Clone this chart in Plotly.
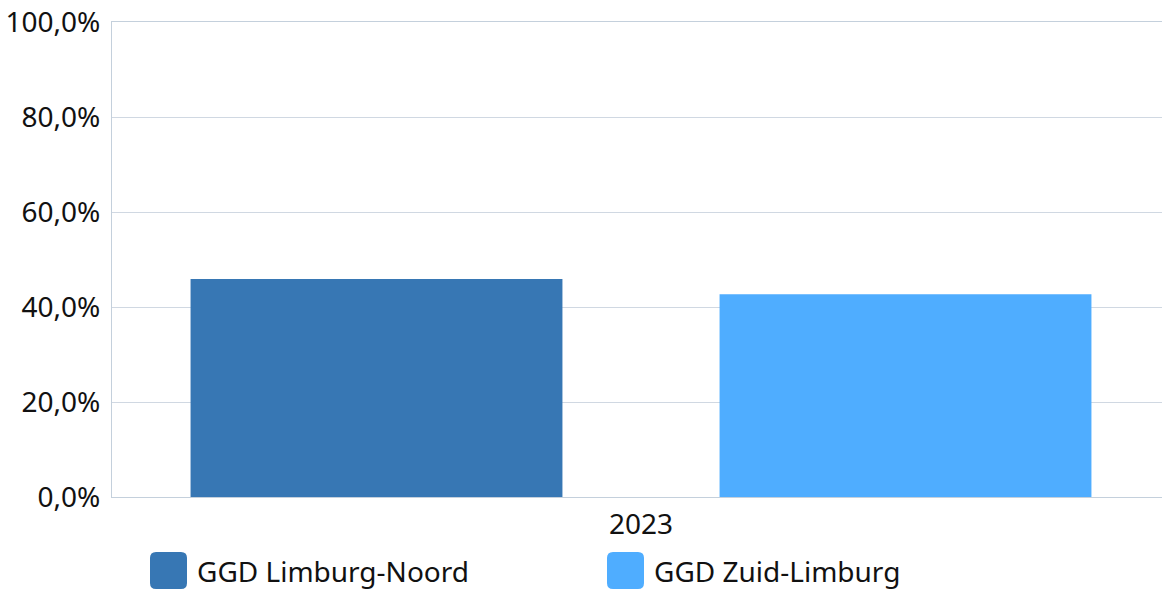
import plotly.graph_objects as go

categories = ["2023"]
series_names = ["GGD Limburg-Noord", "GGD Zuid-Limburg"]
series_values = [[0.459], [0.427]]
colors = ["#3777b4", "#4fadff"]
tick_vals = [0, 0.2, 0.4, 0.6, 0.8, 1.0]

W, H = 1162, 589
L, R, T, B = 112, 0, 22, 92
pw, ph = W - L - R, H - T - B
# the original plot area is 1058px wide, clipped by the window at the right
full_pw = 1058

fig = go.Figure()
for name, vals, c in zip(series_names, series_values, colors):
    fig.add_trace(go.Bar(x=categories, y=vals, name=name, marker=dict(color=c, line=dict(width=0)),
                         showlegend=False))

font = "Segoe UI, Noto Sans, Open Sans, sans-serif"
FS = 28

def px_to_paper_x(px):
    return (px - L) / pw

def py_to_paper_y(py):
    return (H - B - py) / ph

def rounded_rect_path(x0, y0, x1, y1, r):
    # pixel coordinates (top-left origin) -> paper-coordinate SVG path
    X = px_to_paper_x
    Y = py_to_paper_y
    return (f"M {X(x0 + r)},{Y(y0)} L {X(x1 - r)},{Y(y0)} Q {X(x1)},{Y(y0)} {X(x1)},{Y(y0 + r)} "
            f"L {X(x1)},{Y(y1 - r)} Q {X(x1)},{Y(y1)} {X(x1 - r)},{Y(y1)} "
            f"L {X(x0 + r)},{Y(y1)} Q {X(x0)},{Y(y1)} {X(x0)},{Y(y1 - r)} "
            f"L {X(x0)},{Y(y0 + r)} Q {X(x0)},{Y(y0)} {X(x0 + r)},{Y(y0)} Z")

# custom legend
legend_px = [150, 607]
for name, c, px in zip(series_names, colors, legend_px):
    fig.add_shape(type="path", xref="paper", yref="paper",
                  path=rounded_rect_path(px, 552, px + 37, 589, 6),
                  fillcolor=c, line=dict(width=0), layer="above")
    fig.add_annotation(xref="paper", yref="paper", x=px_to_paper_x(px + 45), y=py_to_paper_y(571),
                       text=name, showarrow=False, xanchor="left", yanchor="middle",
                       font=dict(size=FS, color="#111111", family=font))

fig.update_layout(
    width=W, height=H,
    margin=dict(l=L, r=R, t=T, b=B, pad=0),
    paper_bgcolor="white", plot_bgcolor="white",
    barmode="group", bargap=0.0, bargroupgap=0.297,
    separators=",.",
    font=dict(family=font, size=FS, color="#111111"),
    xaxis=dict(range=[-0.5, -0.5 + pw / full_pw],
               showgrid=False, showline=True, mirror=True, linecolor="#c4d0dc", linewidth=1,
               ticks="", tickfont=dict(size=FS), ticklabelstandoff=2),
    yaxis=dict(range=[0, 1.0], tickvals=tick_vals, tickformat=".1%",
               ticklabeloverflow="allow", mirror=False,
               showgrid=True, gridcolor="#d0d8e2", gridwidth=1,
               showline=True, linecolor="#c4d0dc", linewidth=1,
               zeroline=False, ticks="", tickfont=dict(size=FS), ticklabelstandoff=5),
)

fig.write_html("out.html", config={"displayModeBar": False},
               post_script="document.body.style.margin='0';document.documentElement.style.overflow='hidden';")
